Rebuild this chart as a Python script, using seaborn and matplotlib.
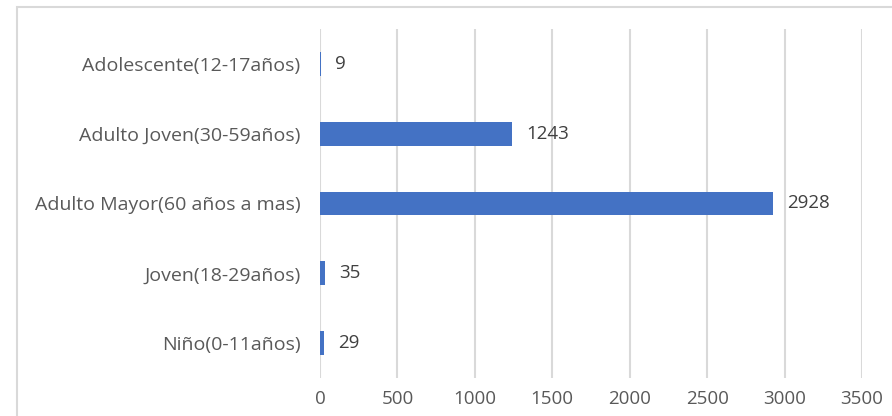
import matplotlib
matplotlib.use("Agg")
import matplotlib.pyplot as plt
import seaborn as sns
import pandas as pd
from matplotlib.patches import Rectangle

categorias = ['Adolescente(12-17años)', 'Adulto Joven(30-59años)',
              'Adulto Mayor(60 años a mas)', 'Joven(18-29años)', 'Niño(0-11años)']
valores = [9, 1243, 2928, 35, 29]
ticks_x = [0, 500, 1000, 1500, 2000, 2500, 3000, 3500]

sns.set_style('white')
plt.rcParams['font.family'] = ['Open Sans', 'DejaVu Sans']

df = pd.DataFrame({'grupo': categorias, 'total': valores})

fig = plt.figure(figsize=(8.92, 4.16), dpi=100)
ax = fig.add_axes([320/892, 1 - 378/416, (862 - 320)/892, (378 - 29)/416])

sns.barplot(data=df, y='grupo', x='total', color='#4472C4', width=0.34,
            saturation=1, linewidth=0, ax=ax)

ax.set_xlim(0, 3500)
ax.set_ylim(4.5, -0.5)
ax.set_xticks(ticks_x)
ax.grid(axis='x', color='#D9D9D9', linewidth=1.5)
ax.set_axisbelow(True)
for s in ax.spines.values():
    s.set_visible(False)
ax.set_xlabel('')
ax.set_ylabel('')
ax.tick_params(axis='y', length=0, labelsize=14, colors='#595959', pad=14)
ax.tick_params(axis='x', length=0, labelsize=13.5, colors='#595959', pad=9)

for i, v in enumerate(valores):
    ax.annotate(str(v), (v, i), xytext=(10, 0), textcoords='offset points',
                va='center', ha='left', fontsize=13.5, color='#404040')

fig.patches.append(Rectangle((17/892, -0.2), 1.1, 1 - 7/416 + 0.2,
                             transform=fig.transFigure, fill=False,
                             edgecolor='#D9D9D9', linewidth=1.5))

fig.savefig('out.png', dpi=100)
